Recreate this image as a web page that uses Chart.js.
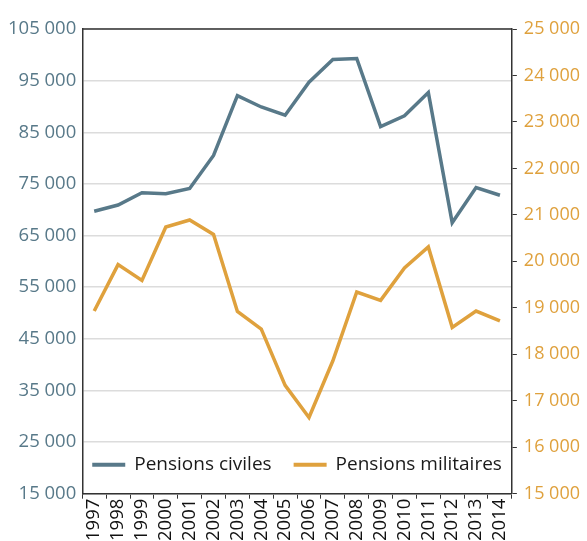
<!DOCTYPE html>
<html>
<head>
<meta charset="utf-8">
<script src="https://cdn.jsdelivr.net/npm/chart.js@4"></script>
<style>
  html, body { margin: 0; padding: 0; background: #fff; }
  #wrap { width: 587px; height: 541px; }
</style>
</head>
<body>
<div id="wrap"><canvas id="chart" width="587" height="541"></canvas></div>
<script>
var years = ['1997','1998','1999','2000','2001','2002','2003','2004','2005','2006','2007','2008','2009','2010','2011','2012','2013','2014']
var civiles = [69700, 70900, 73300, 73100, 74100, 80500, 92100, 89900, 88300, 94700, 99100, 99300, 86100, 88200, 92700, 67500, 74300, 72800]
var militaires = [18930, 19930, 19590, 20740, 20890, 20580, 18920, 18540, 17330, 16640, 17860, 19340, 19160, 19860, 20310, 18580, 18930, 18720]

var blue = '#587989'
var orange = '#dfa13d'

function fmt (v) {
  return String(v).replace(/\B(?=(\d{3})+(?!\d))/g, ' ')
}

// legend drawn inside the plot, plus the top border of the frame
var insideLegend = {
  id: 'insideLegend',
  afterDraw: function (chart) {
    var ctx = chart.ctx
    var a = chart.chartArea
    ctx.save()
    ctx.strokeStyle = '#333'
    ctx.lineWidth = 1.5
    ctx.beginPath()
    ctx.moveTo(a.left, a.top)
    ctx.lineTo(a.right, a.top)
    ctx.stroke()

    ctx.font = '19px "Open Sans"'
    ctx.textBaseline = 'middle'
    var lineLen = 33, gap = 9, between = 22
    var items = chart.data.datasets.map(function (d) {
      return { text: d.label, color: d.borderColor, w: ctx.measureText(d.label).width }
    })
    var total = 0
    items.forEach(function (it, i) {
      total += lineLen + gap + it.w
      if (i > 0) total += between
    })
    var x = (a.left + a.right) / 2 - total / 2
    var y = a.bottom - 29
    items.forEach(function (it) {
      ctx.strokeStyle = it.color
      ctx.lineWidth = 4
      ctx.beginPath()
      ctx.moveTo(x, y)
      ctx.lineTo(x + lineLen, y)
      ctx.stroke()
      x += lineLen + gap
      ctx.fillStyle = '#1a1a1a'
      ctx.fillText(it.text, x, y)
      x += it.w + between
    })
    ctx.restore()
  }
}

new Chart(document.getElementById('chart'), {
  type: 'line',
  data: {
    labels: years,
    datasets: [{
      label: 'Pensions civiles',
      data: civiles,
      borderColor: blue,
      borderWidth: 3.5,
      pointRadius: 0,
      yAxisID: 'y'
    }, {
      label: 'Pensions militaires',
      data: militaires,
      borderColor: orange,
      borderWidth: 3.5,
      pointRadius: 0,
      yAxisID: 'y2'
    }]
  },
  options: {
    responsive: false,
    animation: false,
    layout: { padding: { top: 29, left: 2, right: 0, bottom: 0 } },
    plugins: {
      legend: { display: false },
      tooltip: { enabled: false }
    },
    scales: {
      x: {
        offset: true,
        grid: { offset: true, drawOnChartArea: false, color: '#333', tickLength: 5 },
        border: { color: '#333', width: 1.5 },
        ticks: {
          autoSkip: false, minRotation: 90, maxRotation: 90,
          color: '#111', font: { family: 'Open Sans', size: 18.5 }, padding: 0
        }
      },
      y: {
        position: 'left',
        min: 15000,
        max: 105000,
        ticks: {
          stepSize: 10000, color: blue, padding: 6,
          font: { family: 'Open Sans', size: 18.5 },
          callback: function (v) { return fmt(v) }
        },
        grid: { color: '#dcdcdc', lineWidth: 1.5, drawTicks: false },
        border: { color: '#333', width: 1.5 }
      },
      y2: {
        position: 'right',
        min: 15000,
        max: 25000,
        ticks: {
          stepSize: 1000, color: orange, padding: 7,
          font: { family: 'Open Sans', size: 18 },
          callback: function (v) { return fmt(v) }
        },
        grid: { drawOnChartArea: false, color: '#333', tickLength: 5 },
        border: { color: '#333', width: 1.5 }
      }
    }
  },
  plugins: [insideLegend]
})
</script>
</body>
</html>
